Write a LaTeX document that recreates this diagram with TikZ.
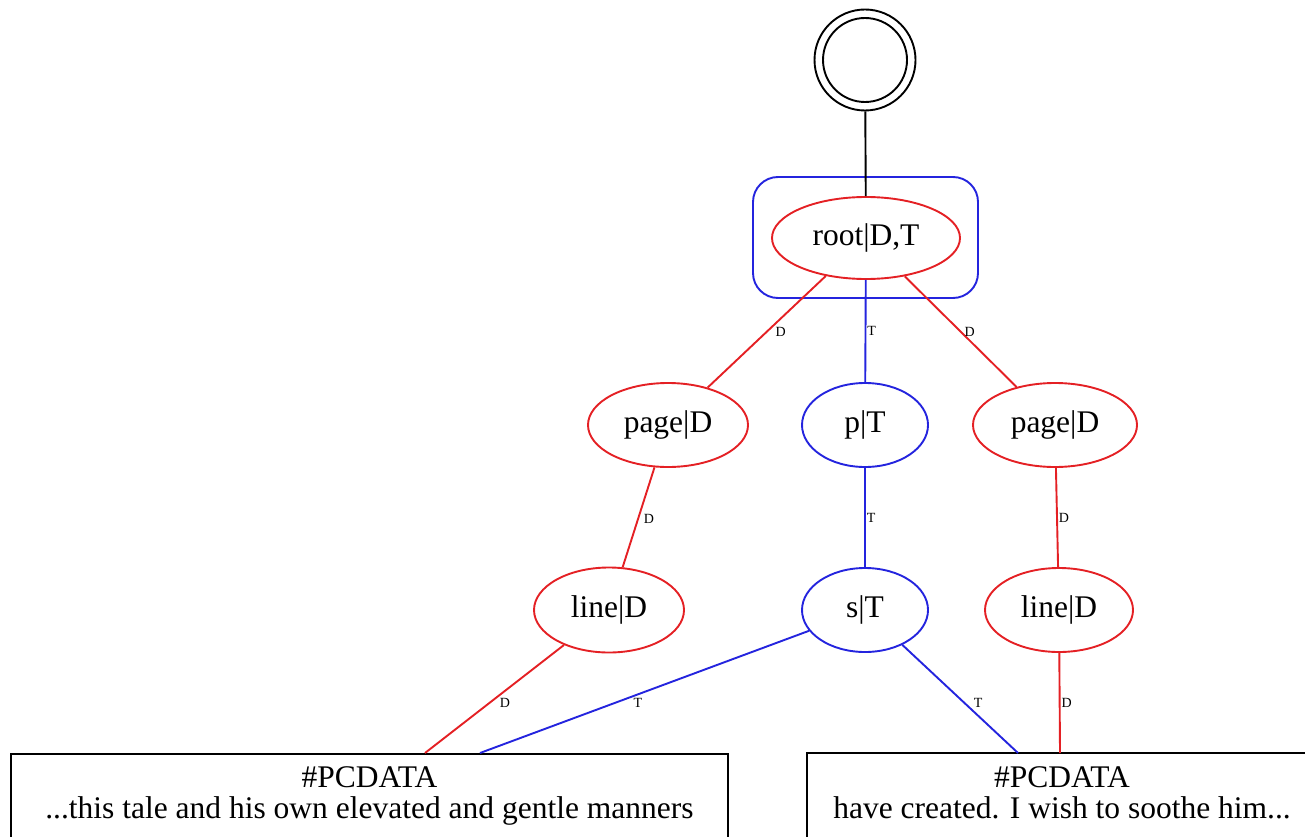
\documentclass[tikz,border=0pt]{standalone}
\usepackage{fontspec}
\setmainfont{Liberation Serif}
\usetikzlibrary{shapes.geometric,calc}
\definecolor{dred}{RGB}{228,32,36}
\definecolor{tblue}{RGB}{36,36,222}
\begin{document}
\begin{tikzpicture}[x=1pt,y=-1pt,
  big/.style={font=\fontsize{31.5}{31.5}\selectfont},
  dnode/.style={ellipse, draw=dred, line width=1.9pt, inner sep=0pt, big},
  tnode/.style={ellipse, draw=tblue, line width=1.9pt, inner sep=0pt, big},
  dedge/.style={draw=dred, line width=1.9pt},
  tedge/.style={draw=tblue, line width=1.9pt},
  elbl/.style={font=\fontsize{14}{14}\selectfont, inner sep=1pt, text=black},
  textbox/.style={rectangle, inner sep=0pt, anchor=north west, minimum height=100pt},
  boxline/.style={draw=black, line width=1.9pt},
  boxtext/.style={big, anchor=base, inner sep=0pt}]
\useasboundingbox (0,0) rectangle (1305,837);
\clip (0,0) rectangle (1305,837);

% start state
\node[circle, draw, line width=1.9pt, minimum size=101pt, inner sep=0pt] (start) at (865,60) {};
\draw[line width=1.9pt] (start.center) circle[radius=42pt];

% grouped root
\node[rectangle, rounded corners=25pt, draw=tblue, line width=1.9pt,
      minimum width=225pt, minimum height=121pt] (rootbox) at (865.5,237.5) {};
\node[dnode, minimum width=188pt, minimum height=82pt] (root) at (866,238) {root|D,T};

% element nodes
\node[dnode, minimum width=160pt, minimum height=84pt] (pageL) at (668,425) {page|D};
\node[tnode, minimum width=126pt, minimum height=84pt] (pT)    at (865,425) {p|T};
\node[dnode, minimum width=164pt, minimum height=84pt] (pageR) at (1055,425) {page|D};
\node[dnode, minimum width=150pt, minimum height=85pt] (lineL) at (609,610) {line|D};
\node[tnode, minimum width=126pt, minimum height=84pt] (sT)    at (865,610) {s|T};
\node[dnode, minimum width=148pt, minimum height=84pt] (lineR) at (1059,610) {line|D};

% text leaves (they run past the lower and right edges)
\node[textbox, draw=black, line width=1.9pt, minimum width=717pt] (boxL) at (10,753) {};
\node[boxtext] (boxL1) at ($(boxL.north)+(0,34)$) {\#PCDATA};
\node[boxtext] (boxL2) at ($(boxL.north)+(0,65)$) {...this tale and his own elevated and gentle manners};
\node[textbox, minimum width=560pt] (boxR) at (807,753) {};
\draw[boxline] (boxR.north east) -- (boxR.north west) -- (boxR.south west) -- (boxR.south east);
\node[boxtext] (boxR1) at ($(boxR.north west)+(255,34)$) {\#PCDATA};
\node[boxtext] (boxR2) at ($(boxR.north west)+(255,65)$) {have created. I wish to soothe him...};

% edge ports on the leaf boxes
\coordinate (inL1) at ([xshift=415pt]boxL.north west);
\coordinate (inL2) at ([xshift=470pt]boxL.north west);
\coordinate (inR1) at ([xshift=211pt]boxR.north west);
\coordinate (inR2) at ([xshift=253pt]boxR.north west);

% connectors
\draw[line width=1.9pt] (start) -- (root);
\draw[dedge] (root) -- node[elbl, pos=0.5, anchor=west, xshift=7pt] {D} (pageL);
\draw[tedge] (root) -- node[elbl, pos=0.5, anchor=west] {T} (pT);
\draw[dedge] (root) -- node[elbl, pos=0.5, anchor=west, xshift=2pt] {D} (pageR);
\draw[dedge] (pageL) -- node[elbl, pos=0.52, anchor=west, xshift=4pt] {D} (lineL);
\draw[tedge] (pT) -- node[elbl, pos=0.5, anchor=west] {T} (sT);
\draw[dedge] (pageR) -- node[elbl, pos=0.5, anchor=west] {D} (lineR);
\draw[dedge] (lineL) -- node[elbl, pos=0.54, anchor=west, xshift=9pt] {D} (inL1);
\draw[tedge] (sT) -- node[elbl, pos=0.52, anchor=north, yshift=-2pt] {T} (inL2);
\draw[tedge] (sT) -- node[elbl, pos=0.54, anchor=west, xshift=7pt] {T} (inR1);
\draw[dedge] (lineR) -- node[elbl, pos=0.5, anchor=west] {D} (inR2);
\end{tikzpicture}
\end{document}
